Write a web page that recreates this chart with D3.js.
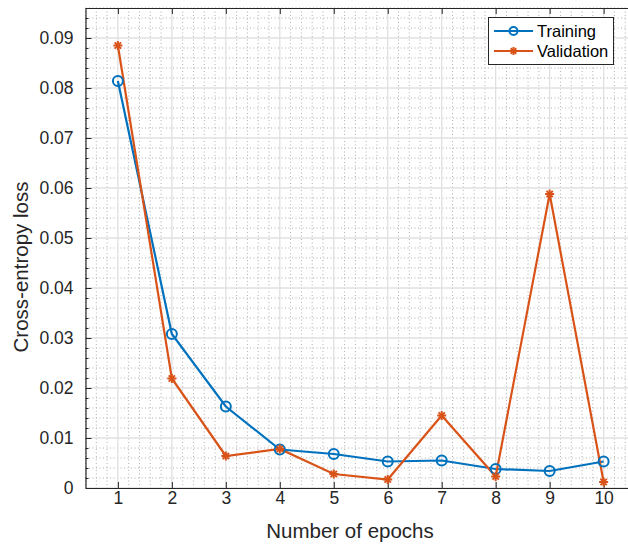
<!DOCTYPE html>
<html><head><meta charset="utf-8">
<script src="https://cdn.jsdelivr.net/npm/d3@7"></script>
<style>body{margin:0;background:#fff}svg{display:block;font-family:"Liberation Sans",Arial,sans-serif}</style>
</head><body><svg id="c" width="628" height="545"></svg>
<script>
const epochs = [1,2,3,4,5,6,7,8,9,10];
const training = [0.0814,0.0308,0.0163,0.0077,0.0068,0.0053,0.0055,0.0038,0.0034,0.0053];
const validation = [0.0885,0.0219,0.0064,0.0078,0.0028,0.0017,0.0145,0.0023,0.0588,0.0012];
const yTicks = [0,0.01,0.02,0.03,0.04,0.05,0.06,0.07,0.08,0.09];
const seriesNames = ["Training","Validation"];
const colors = ["#0072BD","#D95319"];

const svg = d3.select("#c");
const L=85.5, R=636, T=8, B=488;
const x = d3.scaleLinear().domain([0.4,10.6]).range([L,R]);
const y = d3.scaleLinear().domain([0,0.096]).range([B,T]);

const g = svg.append("g");
// minor grid
const xMinor = d3.range(0.4,10.61,0.2).filter(v=>Math.abs(v-Math.round(v))>1e-6);
const yMinor = d3.range(0,0.0961,0.002).filter(v=>Math.abs(v*100-Math.round(v*100))>1e-6);
g.selectAll(".mx").data(xMinor).join("line").attr("x1",d=>x(d)).attr("x2",d=>x(d)).attr("y1",T).attr("y2",B)
 .attr("stroke","#b0b0b0").attr("stroke-width",1).attr("stroke-dasharray","1,2.5");
g.selectAll(".my").data(yMinor).join("line").attr("x1",L).attr("x2",R).attr("y1",d=>y(d)).attr("y2",d=>y(d))
 .attr("stroke","#b0b0b0").attr("stroke-width",1).attr("stroke-dasharray","1,2.5");
// major grid
g.selectAll(".gx").data(epochs).join("line").attr("x1",d=>x(d)).attr("x2",d=>x(d)).attr("y1",T).attr("y2",B)
 .attr("stroke","#e0e0e0").attr("stroke-width",1.3);
g.selectAll(".gy").data(yTicks).join("line").attr("x1",L).attr("x2",R).attr("y1",d=>y(d)).attr("y2",d=>y(d))
 .attr("stroke","#e0e0e0").attr("stroke-width",1.3);

// axes
const ax = svg.append("g").attr("transform",`translate(0,${B})`)
 .call(d3.axisBottom(x).tickValues(epochs).tickFormat(d3.format("d")).tickSizeInner(-6).tickSizeOuter(0).tickPadding(4));
const axT = svg.append("g").attr("transform",`translate(0,${T})`)
 .call(d3.axisTop(x).tickValues(epochs).tickFormat("").tickSizeInner(-6).tickSizeOuter(0));
const ay = svg.append("g").attr("transform",`translate(${L},0)`)
 .call(d3.axisLeft(y).tickValues(yTicks).tickFormat(d=>d===0?"0":d3.format(".2f")(d)).tickSizeInner(-6).tickSizeOuter(0).tickPadding(12));
const ayMinor = svg.append("g").attr("transform",`translate(${L},0)`)
 .call(d3.axisLeft(y).tickValues(yMinor).tickFormat("").tickSizeInner(-3).tickSizeOuter(0));
ayMinor.select(".domain").remove();
[ax,axT,ay,ayMinor].forEach(a=>{
  a.selectAll(".domain").attr("stroke","#262626").attr("stroke-width",1.2);
  a.selectAll(".tick line").attr("stroke","#262626").attr("stroke-width",1);
  a.selectAll("text").attr("fill","#262626").attr("font-size",17.5).attr("font-family","Liberation Sans, Arial, sans-serif");
});

// labels
svg.append("text").attr("x",350).attr("y",538).attr("text-anchor","middle")
 .attr("font-size",20.5).attr("fill","#262626").text("Number of epochs");
svg.append("text").attr("transform",`translate(28,${(T+B)/2+19}) rotate(-90)`).attr("text-anchor","middle")
 .attr("font-size",20.5).attr("fill","#262626").text("Cross-entropy loss");

// lines
const data = [training, validation];
const line = d3.line().x((d,i)=>x(epochs[i])).y(d=>y(d));
data.forEach((s,k)=>{
  svg.append("path").datum(s).attr("d",line).attr("fill","none").attr("stroke",colors[k]).attr("stroke-width",2.2);
});
function star(sel,cx,cy,r,c){
  const gg = sel.append("g").attr("transform",`translate(${cx},${cy})`).attr("stroke",c).attr("stroke-width",2);
  [[-r,0,r,0],[0,-r,0,r],[-r*0.7,-r*0.7,r*0.7,r*0.7],[-r*0.7,r*0.7,r*0.7,-r*0.7]].forEach(l=>
    gg.append("line").attr("x1",l[0]).attr("y1",l[1]).attr("x2",l[2]).attr("y2",l[3]));
}
svg.selectAll(".ct").data(training).join("circle").attr("cx",(d,i)=>x(epochs[i])).attr("cy",d=>y(d)).attr("r",5)
 .attr("fill","none").attr("stroke",colors[0]).attr("stroke-width",2);
validation.forEach((d,i)=>star(svg,x(epochs[i]),y(d),4.5,colors[1]));

// legend
const lg = svg.append("g");
lg.append("rect").attr("x",488.5).attr("y",17.5).attr("width",125).attr("height",47).attr("fill","#fff").attr("stroke","#262626").attr("stroke-width",1);
seriesNames.forEach((n,k)=>{
  const yy = 31 + k*20;
  lg.append("line").attr("x1",494).attr("x2",533).attr("y1",yy).attr("y2",yy).attr("stroke",colors[k]).attr("stroke-width",2);
  if(k===0) lg.append("circle").attr("cx",513.5).attr("cy",yy).attr("r",4).attr("fill","none").attr("stroke",colors[0]).attr("stroke-width",2);
  else star(lg,513.5,yy,4,colors[1]);
  lg.append("text").attr("x",537).attr("y",yy+6).attr("font-size",16.5).attr("fill","#000").text(n);
});
</script></body></html>
